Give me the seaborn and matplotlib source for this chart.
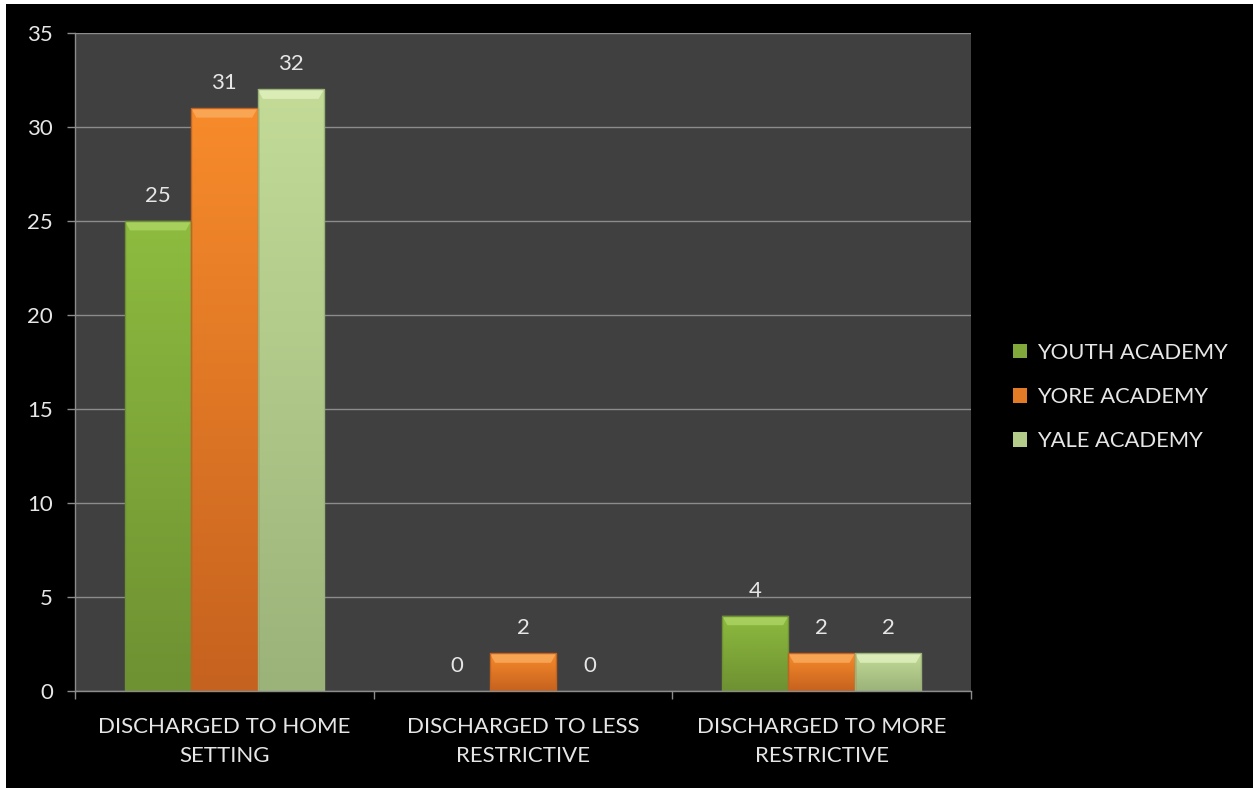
import numpy as np
import pandas as pd
import matplotlib
matplotlib.use("Agg")
import matplotlib.pyplot as plt
import matplotlib.patches as mpatches
from matplotlib.colors import LinearSegmentedColormap, to_rgb
import seaborn as sns

categories = ["DISCHARGED TO HOME\nSETTING", "DISCHARGED TO LESS\nRESTRICTIVE", "DISCHARGED TO MORE\nRESTRICTIVE"]
series = ["YOUTH ACADEMY", "YORE ACADEMY", "YALE ACADEMY"]
youth = [25, 0, 4]
yore = [31, 2, 2]
yale = [32, 0, 2]
yticks = [0, 5, 10, 15, 20, 25, 30, 35]

top_colors = ["#8dbb3f", "#f78b2b", "#c3db97"]
bot_colors = ["#6e9132", "#c6621f", "#9bb379"]
bevel_colors = ["#b3d96a", "#fbb266", "#e6f5c6"]
mid_colors = ["#80a83a", "#e37a26", "#b4cc8a"]

df = pd.DataFrame({
    "category": categories * 3,
    "series": [s for s in series for _ in categories],
    "value": youth + yore + yale,
})

sns.set_theme(style="dark")
plt.rcParams["font.family"] = ["Lato", "DejaVu Sans"]

fig = plt.figure(figsize=(12.53, 7.88), dpi=100, facecolor="black")
ax = fig.add_axes([75/1253, 1-691/788, (971-75)/1253, (691-33)/788])
ax.set_facecolor("#404040")

sns.barplot(data=df, x="category", y="value", hue="series", hue_order=series,
            palette=mid_colors, width=0.667, ax=ax, saturation=1, legend=False,
            edgecolor="none", linewidth=0)

ax.set_ylim(0, 35)
ax.set_xlim(-0.5, 2.5)
ax.set_yticks(yticks)
ax.set_xlabel("")
ax.set_ylabel("")
ax.grid(axis="y", color="#8c8c8c", linewidth=1.0)
ax.grid(axis="x", visible=False)
ax.set_axisbelow(True)
for s in ["top", "right"]:
    ax.spines[s].set_visible(False)
for s in ["left", "bottom"]:
    ax.spines[s].set_color("#8c8c8c")
    ax.spines[s].set_linewidth(1.0)

ax.tick_params(axis="y", colors="#8c8c8c", labelcolor="#e6e6e6", labelsize=16,
               length=6, width=1, direction="out", left=True, pad=10)
ax.tick_params(axis="x", which="major", length=0, labelcolor="#e6e6e6", labelsize=16, pad=19)
ax.set_xticks([-0.5, 0.5, 1.5, 2.5], minor=True)
ax.tick_params(axis="x", which="minor", length=6, width=1, colors="#8c8c8c", bottom=True)
for lbl in ax.get_xticklabels():
    lbl.set_linespacing(1.55)

# gradient bevel fills for each bar
for ci, cont in enumerate(ax.containers):
    top = np.array(to_rgb(top_colors[ci]))
    bot = np.array(to_rgb(bot_colors[ci]))
    cmap = LinearSegmentedColormap.from_list("g%d" % ci, [bot, top])
    for p in cont.patches:
        h = p.get_height()
        if h <= 0:
            continue
        x0, w = p.get_x(), p.get_width()
        grad = np.linspace(0, 1, 100).reshape(-1, 1)
        im = ax.imshow(grad, cmap=cmap, origin="lower", aspect="auto",
                       extent=[x0, x0 + w, 0, h], zorder=p.get_zorder() + 0.1,
                       interpolation="bicubic")
        im.set_clip_path(p)
        bh = 0.5
        inset = w * 0.08
        bevel = mpatches.Polygon([[x0, h], [x0 + w, h], [x0 + w - inset, h - bh], [x0 + inset, h - bh]],
                                 closed=True, facecolor=bevel_colors[ci], edgecolor="none",
                                 alpha=0.7, zorder=p.get_zorder() + 0.2)
        ax.add_patch(bevel)
        edge = mpatches.Rectangle((x0, 0), w, h, facecolor="none",
                                  edgecolor=bot_colors[ci], linewidth=1.0,
                                  zorder=p.get_zorder() + 0.3)
        ax.add_patch(edge)
    ax.bar_label(cont, labels=[f"{int(v)}" for v in cont.datavalues],
                 padding=11, color="#e6e6e6", fontsize=16)

handles = [mpatches.Patch(facecolor=c, edgecolor="none", label=s) for c, s in zip(mid_colors, series)]
leg = fig.legend(handles=handles, loc="center left", bbox_to_anchor=(1004/1253, 1-397/788),
                 frameon=False, fontsize=15.8, labelcolor="#e6e6e6",
                 handlelength=0.65, handleheight=0.65, handletextpad=0.45,
                 labelspacing=1.1, borderaxespad=0)

# thin white margins at top and left
fig.patches.append(mpatches.Rectangle((0, 0), 6/1253, 1, transform=fig.transFigure,
                                      facecolor="white", edgecolor="none", zorder=10))
fig.patches.append(mpatches.Rectangle((0, 1-4/788), 1, 4/788, transform=fig.transFigure,
                                      facecolor="white", edgecolor="none", zorder=10))

fig.savefig("out.png", dpi=100, facecolor="black")
